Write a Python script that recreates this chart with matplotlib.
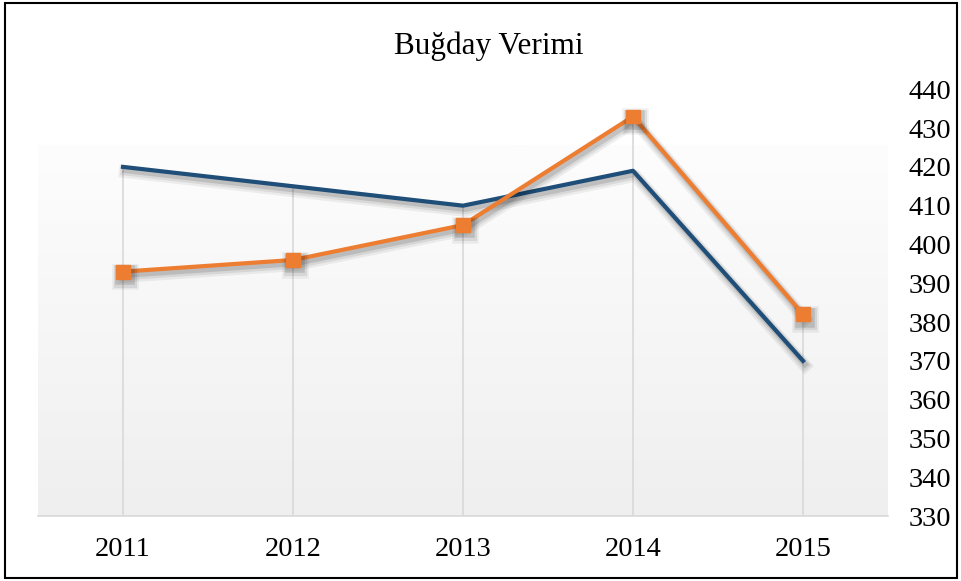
import numpy as np
import matplotlib.pyplot as plt
import matplotlib.patheffects as pe
from matplotlib.colors import LinearSegmentedColormap
from matplotlib.patches import Rectangle

years = ['2011', '2012', '2013', '2014', '2015']
seri_mavi = [420, 415, 410, 419, 370]
seri_turuncu = [393, 396, 405, 433, 382]
y_ticks = [330, 340, 350, 360, 370, 380, 390, 400, 410, 420, 430, 440]

plt.rcParams['font.family'] = ['Liberation Serif', 'DejaVu Serif']

fig = plt.figure(figsize=(9.62, 5.81), dpi=100)
ax = fig.add_axes([38 / 962, 65 / 581, 850 / 962, 436 / 581])

x = np.arange(len(years))
ax.set_xlim(-0.5, len(years) - 0.5)
ax.set_ylim(330, 442.4)

# degrade arka plan (cizim alaninin alt kismi)
grad = np.linspace(1.0, 0.0, 256).reshape(-1, 1)
ax.imshow(grad, extent=[-0.5, len(years) - 0.5, 330, 425.6], aspect='auto',
          cmap=LinearSegmentedColormap.from_list('g', ['#efefef', '#fdfdfd']),
          zorder=0, origin='upper')

# en yuksek noktadan asagi inen dikey cizgiler
tepe = np.maximum(seri_mavi, seri_turuncu)
ax.vlines(x, 330, tepe, color='#d9d9d9', linewidth=1.2, zorder=1)

golge = [pe.SimpleLineShadow(offset=(1.5, -3.5), shadow_color='#000000', alpha=0.06, linewidth=9),
         pe.SimpleLineShadow(offset=(1.5, -3), shadow_color='#000000', alpha=0.08, linewidth=6.5),
         pe.SimpleLineShadow(offset=(1.5, -2.5), shadow_color='#000000', alpha=0.12, linewidth=4),
         pe.Normal()]

ax.plot(x, seri_mavi, color='#1f4e79', linewidth=3, zorder=3, path_effects=golge)
ax.plot(x, seri_turuncu, color='#ed7d31', linewidth=3, marker='s', markersize=10,
        zorder=4, path_effects=golge)

for s in ['top', 'left', 'right']:
    ax.spines[s].set_visible(False)
ax.spines['bottom'].set_color('#d9d9d9')
ax.spines['bottom'].set_linewidth(1.2)

ax.set_xticks(x)
ax.set_xticklabels(years)
ax.set_yticks(y_ticks)
ax.yaxis.tick_right()
ax.tick_params(axis='x', length=0, pad=15, labelsize=20.5)
ax.tick_params(axis='y', length=0, pad=15, labelsize=20.5)

fig.text(489 / 962, 1 - 46 / 581, 'Buğday Verimi', ha='center', va='center', fontsize=22.5)

fig.patches.append(Rectangle((5 / 962, 3 / 581), 952 / 962, 575 / 581, transform=fig.transFigure,
                             fill=False, edgecolor='black', linewidth=1.5))

fig.savefig('out.png', dpi=100)
